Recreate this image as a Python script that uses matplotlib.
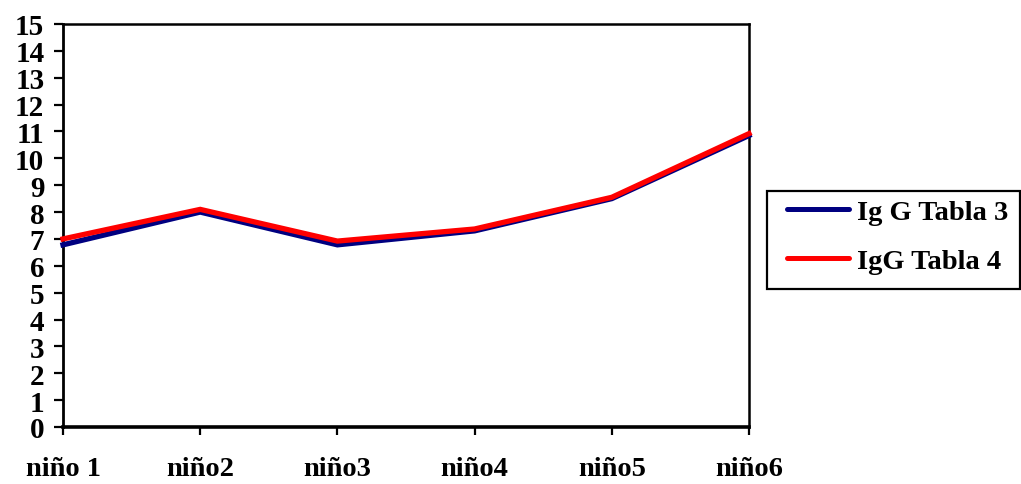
import matplotlib
matplotlib.use("Agg")
import matplotlib.pyplot as plt
from matplotlib.patches import Rectangle

categories = ["niño 1", "niño2", "niño3", "niño4", "niño5", "niño6"]
igg_tabla3 = [6.78, 8.0, 6.78, 7.3, 8.5, 10.85]
igg_tabla4 = [7.0, 8.1, 6.92, 7.37, 8.55, 10.92]
y_ticks = list(range(0, 16))

plt.rcParams["font.family"] = ["Liberation Serif", "DejaVu Serif"]
plt.rcParams["font.weight"] = "bold"

W, H = 1021, 485
fig = plt.figure(figsize=(W / 100, H / 100), dpi=100)
ax = fig.add_axes([63 / W, 1 - 428 / H, (749 - 63) / W, (428 - 25) / H])

x = range(len(categories))
ax.plot(x, igg_tabla3, color="#000080", lw=3.8, label="Ig G Tabla 3",
        solid_joinstyle="miter", zorder=3, clip_on=False)
ax.plot(x, igg_tabla4, color="#FF0000", lw=3.8, label="IgG Tabla 4",
        solid_joinstyle="miter", zorder=4, clip_on=False)

ax.set_xlim(0, len(categories) - 1)
ax.set_ylim(0, 15)
ax.set_yticks(y_ticks)
ax.set_yticklabels([str(v) for v in y_ticks], fontsize=21, fontweight="bold")
ax.set_xticks(list(x))
ax.set_xticklabels(categories, fontsize=20.5, fontweight="bold")

for side in ["left", "bottom", "top", "right"]:
    ax.spines[side].set_color("black")
ax.spines["left"].set_linewidth(2.0)
ax.spines["bottom"].set_linewidth(2.6)
ax.spines["top"].set_linewidth(1.8)
ax.spines["right"].set_linewidth(1.8)

ax.tick_params(axis="y", direction="out", length=6.5, width=1.6, pad=7)
ax.tick_params(axis="x", direction="out", length=6, width=1.6, pad=15)

# legend frame drawn separately so its box and contents can be placed independently
fig.add_artist(Rectangle((767 / W, 1 - 290 / H), (1019.5 - 767) / W, (290 - 192) / H,
                         transform=fig.transFigure, fill=False,
                         edgecolor="black", linewidth=1.6))
leg = fig.legend(loc="center left", bbox_to_anchor=(787 / W, 1 - 237.5 / H),
                 frameon=False, prop={"size": 20.5, "weight": "bold"},
                 handlelength=2.18, handletextpad=0.28, borderpad=0,
                 labelspacing=0.84, borderaxespad=0)
for line in leg.get_lines():
    line.set_linewidth(3.6)
    line.set_solid_capstyle("round")

fig.savefig("out.png", dpi=100)
